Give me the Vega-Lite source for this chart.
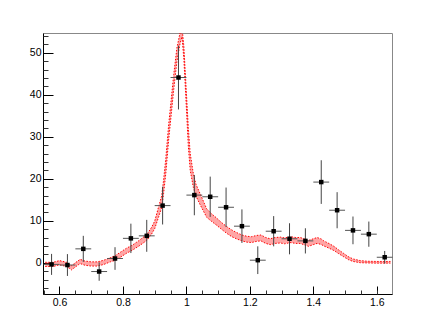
{
  "$schema": "https://vega.github.io/schema/vega-lite/v6.json",
  "width": 349,
  "height": 261,
  "autosize": "none",
  "padding": {"left": 43, "top": 33, "right": 44, "bottom": 33},
  "background": "white",
  "config": {
    "view": {"stroke": "#888", "strokeWidth": 1},
    "axis": {"labelFont": "Liberation Sans", "labelFontSize": 10.5, "labelColor": "#000", "grid": false}
  },
  "datasets": {
    "pts": [
      {"x": 0.575, "xlo": 0.55, "xhi": 0.6, "y": -0.4, "ylo": -2.9, "yhi": 2.1},
      {"x": 0.625, "xlo": 0.6, "xhi": 0.65, "y": -0.55, "ylo": -3.15, "yhi": 2.05},
      {"x": 0.675, "xlo": 0.65, "xhi": 0.7, "y": 3.3, "ylo": 0.2, "yhi": 6.4},
      {"x": 0.725, "xlo": 0.7, "xhi": 0.75, "y": -2.1, "ylo": -4.3, "yhi": 0.1},
      {"x": 0.775, "xlo": 0.75, "xhi": 0.8, "y": 1.0, "ylo": -1.7, "yhi": 3.7},
      {"x": 0.825, "xlo": 0.8, "xhi": 0.85, "y": 5.8, "ylo": 2.3, "yhi": 9.3},
      {"x": 0.875, "xlo": 0.85, "xhi": 0.9, "y": 6.4, "ylo": 2.6, "yhi": 10.2},
      {"x": 0.925, "xlo": 0.9, "xhi": 0.95, "y": 13.6, "ylo": 9.1, "yhi": 18.1},
      {"x": 0.975, "xlo": 0.95, "xhi": 1.0, "y": 44.1, "ylo": 36.5, "yhi": 51.7},
      {"x": 1.025, "xlo": 1.0, "xhi": 1.05, "y": 16.1, "ylo": 11.3, "yhi": 20.9},
      {"x": 1.075, "xlo": 1.05, "xhi": 1.1, "y": 15.7, "ylo": 10.9, "yhi": 20.5},
      {"x": 1.125, "xlo": 1.1, "xhi": 1.15, "y": 13.2, "ylo": 8.5, "yhi": 17.9},
      {"x": 1.175, "xlo": 1.15, "xhi": 1.2, "y": 8.7, "ylo": 4.7, "yhi": 12.7},
      {"x": 1.225, "xlo": 1.2, "xhi": 1.25, "y": 0.6, "ylo": -2.7, "yhi": 3.9},
      {"x": 1.275, "xlo": 1.25, "xhi": 1.3, "y": 7.5, "ylo": 3.9, "yhi": 11.1},
      {"x": 1.325, "xlo": 1.3, "xhi": 1.35, "y": 5.7, "ylo": 2.0, "yhi": 9.4},
      {"x": 1.375, "xlo": 1.35, "xhi": 1.4, "y": 5.2, "ylo": 2.2, "yhi": 8.2},
      {"x": 1.425, "xlo": 1.4, "xhi": 1.45, "y": 19.2, "ylo": 14.0, "yhi": 24.4},
      {"x": 1.475, "xlo": 1.45, "xhi": 1.5, "y": 12.5, "ylo": 8.2, "yhi": 16.8},
      {"x": 1.525, "xlo": 1.5, "xhi": 1.55, "y": 7.7, "ylo": 4.4, "yhi": 11.0},
      {"x": 1.575, "xlo": 1.55, "xhi": 1.6, "y": 6.8, "ylo": 3.8, "yhi": 9.8},
      {"x": 1.625, "xlo": 1.6, "xhi": 1.65, "y": 1.3, "ylo": -0.2, "yhi": 2.8}
    ],
    "band": [
      {"x": 0.555, "lo": -0.9, "hi": 0.1},
      {"x": 0.58, "lo": -0.9, "hi": 0.1},
      {"x": 0.6, "lo": -0.5, "hi": 0.5},
      {"x": 0.622, "lo": -0.9, "hi": 0.1},
      {"x": 0.638, "lo": -1.7, "hi": -0.7},
      {"x": 0.652, "lo": -0.9, "hi": 0.1},
      {"x": 0.665, "lo": -0.2, "hi": 0.8},
      {"x": 0.68, "lo": -0.6, "hi": 0.4},
      {"x": 0.7, "lo": -0.8, "hi": 0.2},
      {"x": 0.72, "lo": -0.8, "hi": 0.2},
      {"x": 0.74, "lo": -0.4, "hi": 0.6},
      {"x": 0.76, "lo": 0.2, "hi": 1.2},
      {"x": 0.775, "lo": 0.55, "hi": 1.65},
      {"x": 0.79, "lo": 1.2, "hi": 2.4},
      {"x": 0.81, "lo": 2.2, "hi": 3.4},
      {"x": 0.83, "lo": 3.0, "hi": 4.2},
      {"x": 0.85, "lo": 3.95, "hi": 5.25},
      {"x": 0.875, "lo": 5.3, "hi": 6.7},
      {"x": 0.89, "lo": 6.8, "hi": 8.4},
      {"x": 0.9, "lo": 8.1, "hi": 9.9},
      {"x": 0.912, "lo": 10.8, "hi": 13.2},
      {"x": 0.922, "lo": 13.1, "hi": 15.9},
      {"x": 0.928, "lo": 16.4, "hi": 19.6},
      {"x": 0.935, "lo": 21.2, "hi": 24.8},
      {"x": 0.944, "lo": 29.2, "hi": 32.8},
      {"x": 0.952, "lo": 35.2, "hi": 38.8},
      {"x": 0.96, "lo": 41.2, "hi": 44.8},
      {"x": 0.97, "lo": 47.9, "hi": 51.1},
      {"x": 0.98, "lo": 52.2, "hi": 54.8},
      {"x": 0.986, "lo": 53.8, "hi": 56.2},
      {"x": 0.992, "lo": 48.5, "hi": 51.5},
      {"x": 0.999, "lo": 38.2, "hi": 41.8},
      {"x": 1.006, "lo": 27.8, "hi": 32.2},
      {"x": 1.012, "lo": 22.0, "hi": 26.0},
      {"x": 1.022, "lo": 17.9, "hi": 21.1},
      {"x": 1.03, "lo": 15.9, "hi": 18.7},
      {"x": 1.044, "lo": 13.7, "hi": 16.3},
      {"x": 1.064, "lo": 10.8, "hi": 12.8},
      {"x": 1.08, "lo": 9.8, "hi": 11.6},
      {"x": 1.095, "lo": 8.95, "hi": 10.65},
      {"x": 1.11, "lo": 8.0, "hi": 9.6},
      {"x": 1.127, "lo": 7.0, "hi": 8.6},
      {"x": 1.143, "lo": 6.2, "hi": 7.8},
      {"x": 1.159, "lo": 5.65, "hi": 7.15},
      {"x": 1.175, "lo": 5.2, "hi": 6.6},
      {"x": 1.19, "lo": 4.9, "hi": 6.3},
      {"x": 1.205, "lo": 4.8, "hi": 6.2},
      {"x": 1.222, "lo": 5.1, "hi": 6.5},
      {"x": 1.235, "lo": 5.2, "hi": 6.6},
      {"x": 1.25, "lo": 4.6, "hi": 6.0},
      {"x": 1.264, "lo": 4.3, "hi": 5.7},
      {"x": 1.28, "lo": 4.6, "hi": 6.0},
      {"x": 1.296, "lo": 4.7, "hi": 6.1},
      {"x": 1.31, "lo": 4.5, "hi": 5.9},
      {"x": 1.327, "lo": 4.8, "hi": 6.2},
      {"x": 1.345, "lo": 4.6, "hi": 6.0},
      {"x": 1.359, "lo": 4.6, "hi": 6.0},
      {"x": 1.37, "lo": 4.3, "hi": 5.7},
      {"x": 1.385, "lo": 3.9, "hi": 5.3},
      {"x": 1.4, "lo": 4.3, "hi": 5.7},
      {"x": 1.412, "lo": 4.6, "hi": 6.0},
      {"x": 1.425, "lo": 4.35, "hi": 5.65},
      {"x": 1.433, "lo": 4.0, "hi": 5.2},
      {"x": 1.45, "lo": 3.45, "hi": 4.55},
      {"x": 1.465, "lo": 2.9, "hi": 3.9},
      {"x": 1.48, "lo": 2.15, "hi": 3.05},
      {"x": 1.496, "lo": 1.4, "hi": 2.2},
      {"x": 1.51, "lo": 0.75, "hi": 1.45},
      {"x": 1.525, "lo": 0.3, "hi": 0.9},
      {"x": 1.548, "lo": 0.0, "hi": 0.5},
      {"x": 1.57, "lo": -0.05, "hi": 0.35},
      {"x": 1.6, "lo": -0.1, "hi": 0.3},
      {"x": 1.643, "lo": -0.1, "hi": 0.3}
    ]
  },
  "resolve": {"axis": {"x": "independent", "y": "independent"}},
  "layer": [
    {
      "layer": [
        {
          "mark": {"type": "rule", "color": "#d4d4d4", "strokeWidth": 1.5},
          "encoding": {
            "y": {"datum": 0, "type": "quantitative", "scale": {"domain": [-7.45, 54.7], "nice": false, "zero": false},
              "axis": {"values": [0, 10, 20, 30, 40, 50], "format": "d", "tickSize": -10, "tickColor": "#000", "domainColor": "#000", "labelPadding": 12, "title": null}}
          }
        },
        {
          "data": {"name": "band"},
          "mark": {"type": "area", "color": "#ff2020", "fillOpacity": 0.4, "clip": true},
          "encoding": {
            "x": {"field": "x", "type": "quantitative", "scale": {"domain": [0.548, 1.648], "nice": false, "zero": false},
              "axis": {"values": [0.6, 0.8, 1, 1.2, 1.4, 1.6], "format": "~g", "tickSize": -8, "tickColor": "#000", "domainColor": "#000", "labelPadding": 11, "title": null}},
            "y": {"field": "lo", "type": "quantitative"},
            "y2": {"field": "hi"}
          }
        },
        {
          "data": {"name": "band"},
          "mark": {"type": "line", "color": "#ff0000", "strokeWidth": 1, "strokeDash": [1.5, 1.5], "clip": true},
          "encoding": {
            "x": {"field": "x", "type": "quantitative"},
            "y": {"field": "hi", "type": "quantitative"}
          }
        },
        {
          "data": {"name": "band"},
          "mark": {"type": "line", "color": "#ff0000", "strokeWidth": 1, "strokeDash": [1.5, 1.5], "clip": true},
          "encoding": {
            "x": {"field": "x", "type": "quantitative"},
            "y": {"field": "lo", "type": "quantitative"}
          }
        },
        {
          "data": {"name": "pts"},
          "mark": {"type": "rule", "color": "#444", "strokeWidth": 1},
          "encoding": {
            "x": {"field": "x", "type": "quantitative"},
            "y": {"field": "ylo", "type": "quantitative"},
            "y2": {"field": "yhi"}
          }
        },
        {
          "data": {"name": "pts"},
          "mark": {"type": "rule", "color": "#555", "strokeWidth": 1},
          "encoding": {
            "x": {"field": "xlo", "type": "quantitative"},
            "x2": {"field": "xhi"},
            "y": {"field": "y", "type": "quantitative"}
          }
        },
        {
          "data": {"name": "pts"},
          "mark": {"type": "square", "color": "#000", "filled": true, "size": 20, "opacity": 1},
          "encoding": {
            "x": {"field": "x", "type": "quantitative"},
            "y": {"field": "y", "type": "quantitative"}
          }
        }
      ]
    },
    {
      "data": {"values": [{"a": 0.6, "b": 0}]},
      "mark": {"type": "point", "opacity": 0},
      "encoding": {
        "x": {"field": "a", "type": "quantitative",
          "axis": {"orient": "bottom", "values": [0.55, 0.65, 0.7, 0.75, 0.85, 0.9, 0.95, 1.05, 1.1, 1.15, 1.25, 1.3, 1.35, 1.45, 1.5, 1.55, 1.6], "labels": false, "domain": false, "tickSize": -4, "tickColor": "#333", "title": null}},
        "y": {"field": "b", "type": "quantitative",
          "axis": {"orient": "left", "values": [-6, -4, -2, 2, 4, 6, 8, 12, 14, 16, 18, 22, 24, 26, 28, 32, 34, 36, 38, 42, 44, 46, 48, 52, 54], "labels": false, "domain": false, "tickSize": -5, "tickColor": "#333", "title": null}}
      }
    }
  ]
}
